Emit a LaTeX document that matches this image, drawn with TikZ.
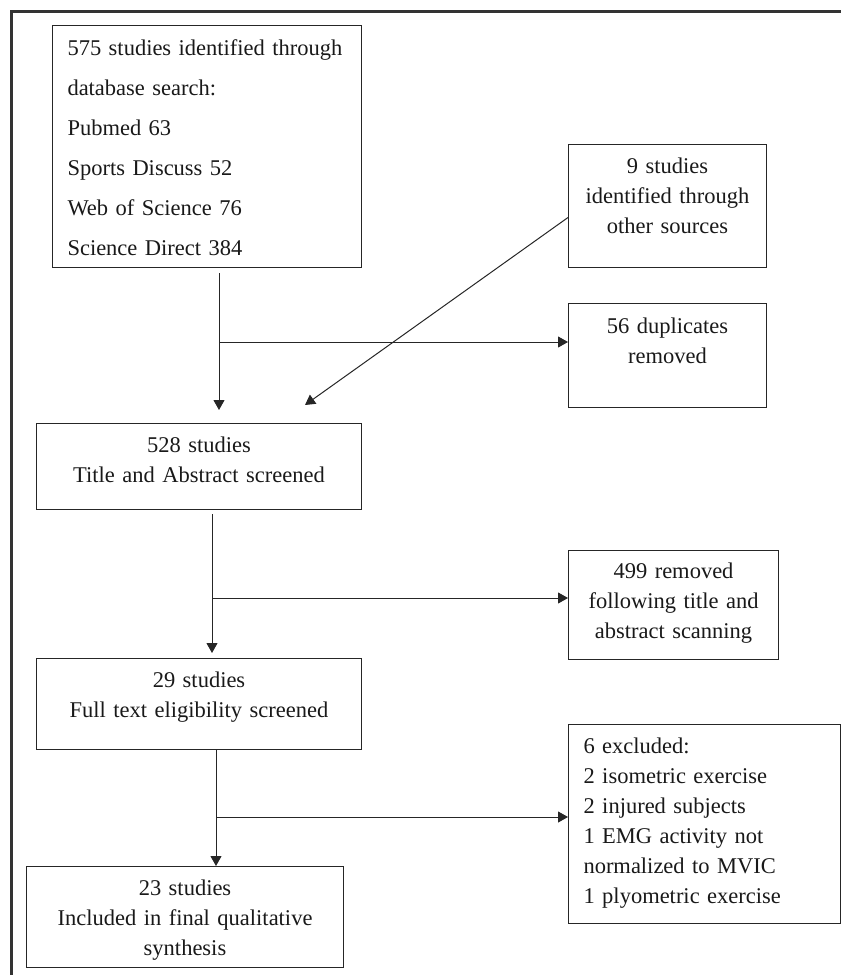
\documentclass[tikz,border=0pt]{standalone}
\usepackage{fontspec}
\setmainfont{Liberation Serif}
\usetikzlibrary{arrows.meta}
\begin{document}
\begin{tikzpicture}[x=0.5pt, y=-0.5pt,
  box/.style={draw=black!85, line width=0.5pt, inner xsep=0pt, inner ysep=0pt,
    text height=14.5pt, align=center, anchor=north west, text=black!90,
    font=\fontsize{11.25}{15}\selectfont},
  arr/.style={draw=black!85, line width=0.5pt, -{Triangle[length=5pt,width=5.5pt]}}]
\useasboundingbox (0,0) rectangle (841,975);
% Outer frame
\draw[line width=1.4pt, black!80] (11.5,975) -- (11.5,11.5) -- (841,11.5);

% Boxes
\node[box, align=left, inner xsep=7.5pt, text width=139.5pt, text height=15pt, text depth=106pt,
  font=\fontsize{11.25}{20}\selectfont] (search) at (52,25)
  {575 studies identified through\\database search:\\Pubmed 63\\Sports Discuss 52\\Web of Science 76\\Science Direct 384};
\node[box, text width=99pt, text depth=47pt] (other) at (568,144) {9 studies\\identified through\\other sources};
\node[box, text width=99pt, text height=15pt, text depth=37pt] (dupl) at (568,303) {56 duplicates\\removed};
\node[box, text width=162.5pt, text depth=28.5pt] (screen) at (36,423) {528 studies\\Title and Abstract screened};
\node[box, text width=105pt, text height=14pt, text depth=40.5pt] (removed) at (568,550) {499 removed\\following title and\\abstract scanning};
\node[box, text width=162.5pt, text depth=31pt] (fulltext) at (36,658) {29 studies\\Full text eligibility screened};
\node[box, align=left, inner xsep=7.5pt, text width=121pt, text depth=85pt] (excl) at (568,724)
  {6 excluded:\\2 isometric exercise\\2 injured subjects\\1 EMG activity not\\normalized to MVIC\\1 plyometric exercise};
\node[box, text width=158.5pt, text depth=36pt] (incl) at (26,866) {23 studies\\Included in final qualitative\\synthesis};

% Connections
\coordinate (j1) at (219,342);
\coordinate (j2) at (212,598);
\coordinate (j3) at (216,817);
\coordinate (tip) at (305,405);
\draw[arr, shorten <=2.5pt, shorten >=6.5pt] (search.south -| j1) -- (j1 |- screen.north);
\draw[arr] (j1) -- (j1 -| dupl.west);
\draw[arr] ([yshift=-5.75pt]other.west) -- (tip);
\draw[arr, shorten <=2pt, shorten >=2.5pt] (screen.south -| j2) -- (j2 |- fulltext.north);
\draw[arr] (j2) -- (j2 -| removed.west);
\draw[arr] (fulltext.south -| j3) -- (j3 |- incl.north);
\draw[arr] (j3) -- (j3 -| excl.west);
\end{tikzpicture}
\end{document}
